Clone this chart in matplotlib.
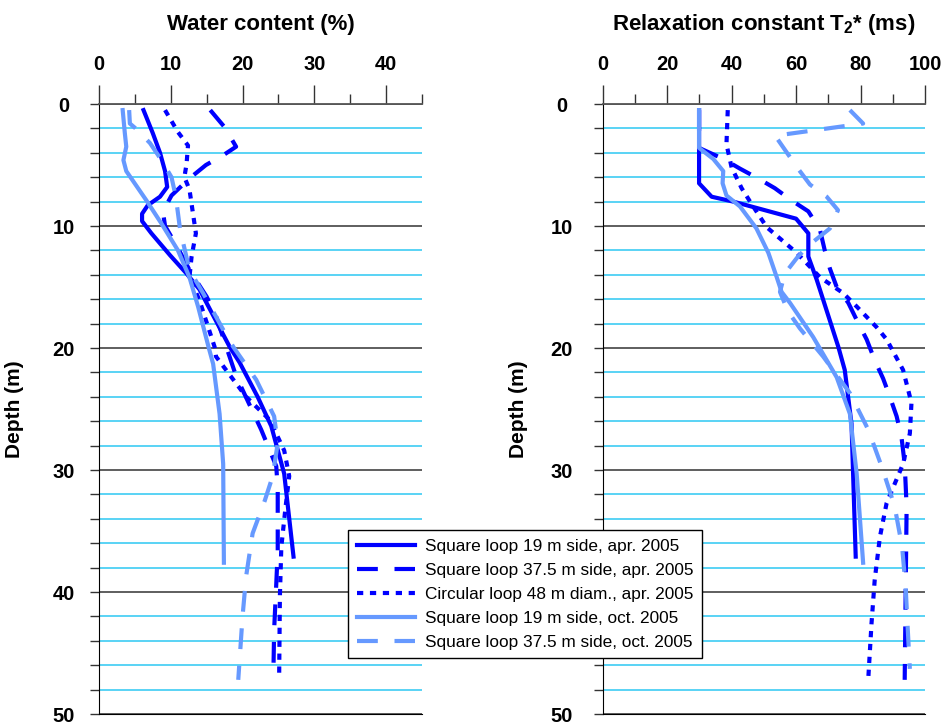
import matplotlib
matplotlib.use("Agg")
import matplotlib.pyplot as plt
from matplotlib.ticker import MultipleLocator

# colours used in the original figure
DARK = "#0000ff"
LIGHT = "#6699ff"
CYAN = "#2cc8f2"
GRIDK = "#333333"

LABELS = [
    "Square loop 19 m side, apr. 2005",
    "Square loop 37.5 m side, apr. 2005",
    "Circular loop 48 m diam., apr. 2005",
    "Square loop 19 m side, oct. 2005",
    "Square loop 37.5 m side, oct. 2005",
]

# ---- water content (%) vs depth (m) ----
wc_sq19_apr_depth = [0.5, 2.4, 4.0, 5.5, 6.8, 7.6, 8.3, 9.0, 9.6, 10.6, 12.4, 13.9, 15.2, 19.9, 21.2, 24.0, 26.4, 30.3, 37.1]
wc_sq19_apr = [6.2, 7.5, 8.5, 9.2, 9.5, 8.5, 6.8, 6.0, 6.0, 7.3, 9.9, 12.2, 14.0, 18.2, 19.6, 22.1, 24.0, 25.8, 27.1]

wc_sq37_apr_depth = [0.5, 1.9, 3.5, 4.2, 5.0, 6.1, 7.5, 8.5, 9.2, 10.0, 11.7, 13.6, 15.8, 17.4, 22.3, 26.7, 29.7, 31.6, 36.6, 39.3, 43.1, 46.5]
wc_sq37_apr = [15.5, 17.5, 19.1, 17.3, 14.9, 12.6, 10.1, 9.2, 9.0, 9.2, 10.9, 12.6, 15.0, 16.3, 19.1, 22.6, 24.7, 24.9, 24.9, 24.7, 24.4, 24.3]

wc_circ48_apr_depth = [0.5, 2.3, 3.4, 4.9, 6.0, 7.0, 9.0, 10.6, 12.5, 14.2, 16.1, 19.9, 20.7, 24.0, 25.9, 28.4, 30.5, 33.0, 36.3, 40.4, 46.9]
wc_circ48_apr = [9.2, 11.0, 12.4, 12.2, 11.9, 12.6, 13.1, 13.5, 12.9, 12.6, 14.0, 16.1, 16.3, 20.5, 23.8, 25.8, 26.5, 26.0, 25.4, 25.2, 25.1]

wc_sq19_oct_depth = [0.5, 2.4, 3.5, 4.6, 5.5, 7.9, 9.8, 12.0, 14.2, 16.6, 20.0, 21.3, 25.4, 29.5, 37.6]
wc_sq19_oct = [3.3, 3.6, 3.8, 3.4, 3.8, 6.6, 8.7, 11.0, 12.6, 13.8, 15.3, 15.9, 16.8, 17.3, 17.4]

wc_sq37_oct_depth = [0.5, 1.6, 2.0, 3.2, 4.6, 6.0, 7.6, 10.3, 13.6, 15.5, 18.5, 19.9, 22.6, 25.6, 27.8, 30.5, 32.5, 35.2, 38.7, 42.0, 47.2]
wc_sq37_oct = [4.2, 4.3, 5.1, 7.1, 8.7, 10.1, 10.7, 11.3, 12.6, 14.5, 17.3, 18.7, 21.9, 24.4, 24.9, 24.2, 23.1, 21.4, 20.5, 20.0, 19.4]

# ---- relaxation constant T2* (ms) vs depth (m) ----
t2_sq19_apr_depth = [0.5, 3.6, 6.5, 7.6, 8.0, 9.4, 10.6, 12.5, 14.4, 19.9, 21.8, 26.2, 37.1]
t2_sq19_apr = [29.9, 29.9, 29.9, 33.8, 40.5, 60.0, 63.8, 63.8, 66.4, 73.1, 75.1, 77.2, 78.5]

t2_sq37_apr_depth = [0.5, 3.6, 4.5, 5.3, 6.1, 6.9, 7.9, 8.8, 10.3, 12.0, 13.5, 15.0, 16.3, 17.7, 19.3, 21.0, 22.5, 24.0, 25.6, 27.3, 29.5, 33.0, 40.0, 47.2]
t2_sq37_apr = [29.9, 29.9, 37.4, 42.6, 48.2, 53.4, 58.6, 63.8, 67.4, 68.9, 70.5, 72.6, 76.2, 78.8, 81.9, 84.4, 87.0, 89.1, 91.2, 92.7, 93.7, 94.3, 94.0, 93.7]

t2_circ48_apr_depth = [0.5, 3.3, 5.2, 6.9, 8.2, 10.1, 12.2, 14.2, 15.5, 16.6, 18.3, 19.3, 21.8, 24.5, 27.0, 29.5, 32.7, 35.5, 39.0, 42.6, 47.1]
t2_circ48_apr = [38.8, 38.4, 40.0, 43.1, 46.2, 50.9, 60.2, 67.4, 74.6, 78.8, 85.0, 88.1, 93.2, 95.8, 95.3, 93.2, 88.1, 86.0, 84.4, 83.4, 82.4]

t2_sq19_oct_depth = [0.5, 3.6, 4.5, 5.5, 6.5, 7.5, 8.4, 10.2, 12.2, 14.2, 15.4, 16.3, 19.1, 22.4, 25.4, 30.3, 37.6]
t2_sq19_oct = [29.9, 29.9, 34.3, 37.4, 37.2, 38.4, 42.6, 47.7, 51.4, 54.0, 55.5, 58.1, 65.3, 72.6, 76.7, 78.8, 80.8]

t2_sq37_oct_depth = [0.5, 1.6, 2.6, 5.3, 6.6, 7.6, 8.7, 10.2, 11.4, 12.5, 13.9, 15.4, 17.0, 18.4, 20.7, 23.7, 26.7, 29.9, 33.0, 36.3, 39.6, 42.8, 46.3]
t2_sq37_oct = [76.7, 80.8, 53.5, 60.6, 64.3, 69.5, 73.0, 70.5, 64.8, 60.6, 56.5, 55.0, 57.5, 61.2, 68.4, 76.7, 82.4, 86.8, 90.6, 92.9, 94.0, 94.6, 95.3]

plt.rcParams.update({
    "font.family": "Liberation Sans",
    "mathtext.fontset": "custom",
    "mathtext.rm": "Liberation Sans:bold",
    "mathtext.it": "Liberation Sans:bold",
    "mathtext.bf": "Liberation Sans:bold",
})

STYLES = [
    dict(color=DARK, linestyle="-"),
    dict(color=DARK, linestyle=(0, (5, 4))),
    dict(color=DARK, linestyle=(0, (1.5, 1.6))),
    dict(color=LIGHT, linestyle="-"),
    dict(color=LIGHT, linestyle=(0, (5, 4))),
]

fig = plt.figure(figsize=(9.46, 7.24), dpi=100)
ax1 = fig.add_axes([99 / 946, 10 / 724, 323 / 946, 610 / 724])
ax2 = fig.add_axes([602.7 / 946, 10 / 724, 322.3 / 946, 610 / 724])


def style_axis(ax, xmax, major, minor, title, label_pad):
    ax.set_xlim(0, xmax)
    ax.set_ylim(50, 0)
    ax.xaxis.set_ticks_position("top")
    ax.xaxis.set_major_locator(MultipleLocator(major))
    ax.xaxis.set_minor_locator(MultipleLocator(minor))
    ax.yaxis.set_major_locator(MultipleLocator(10))
    ax.yaxis.set_minor_locator(MultipleLocator(2))
    ax.tick_params(axis="x", which="major", length=13.5, width=1, color=GRIDK,
                   labelsize=14.5, pad=8)
    ax.tick_params(axis="x", which="minor", length=7, width=1, color=GRIDK)
    ax.tick_params(axis="y", which="both", length=6.5, width=1, color=GRIDK,
                   labelsize=14.5)
    ax.tick_params(axis="y", which="major", pad=label_pad)
    for lab in ax.get_xticklabels() + ax.get_yticklabels():
        lab.set_fontweight("bold")
    for lab in ax.get_yticklabels():
        lab.set_horizontalalignment("center")
    ax.spines["right"].set_visible(False)
    ax.spines["top"].set_color("#555555")
    ax.spines["top"].set_linewidth(1.3)
    ax.spines["left"].set_color("black")
    ax.spines["bottom"].set_color("black")
    ax.grid(which="major", axis="y", color=GRIDK, linewidth=1.1)
    ax.grid(which="minor", axis="y", color=CYAN, linewidth=1.1)
    ax.set_axisbelow(True)
    ax.set_ylabel("Depth (m)", fontsize=15, fontweight="bold")
    ax.yaxis.set_label_coords(-0.232, 0.5)
    ax.text(0.5, 1.131, title, transform=ax.transAxes, ha="center", va="center",
            fontsize=16, fontweight="bold")


handles = []
series_wc = [
    (wc_sq19_apr, wc_sq19_apr_depth),
    (wc_sq37_apr, wc_sq37_apr_depth),
    (wc_circ48_apr, wc_circ48_apr_depth),
    (wc_sq19_oct, wc_sq19_oct_depth),
    (wc_sq37_oct, wc_sq37_oct_depth),
]
series_t2 = [
    (t2_sq19_apr, t2_sq19_apr_depth),
    (t2_sq37_apr, t2_sq37_apr_depth),
    (t2_circ48_apr, t2_circ48_apr_depth),
    (t2_sq19_oct, t2_sq19_oct_depth),
    (t2_sq37_oct, t2_sq37_oct_depth),
]
for (xv, dv), st, lab in zip(series_wc, STYLES, LABELS):
    h, = ax1.plot(xv, dv, linewidth=3, label=lab, **st)
    handles.append(h)
for (xv, dv), st in zip(series_t2, STYLES):
    ax2.plot(xv, dv, linewidth=3, **st)

style_axis(ax1, 45, 10, 5, "Water content (%)", 19)
style_axis(ax2, 100, 20, 10, "Relaxation constant T$_2$* (ms)", 23)

# legend sits on top of the right panel's "40" label, as in the original
leg = fig.legend(handles=handles, loc="upper left",
                 bbox_to_anchor=(348 / 946, 1 - 530 / 724),
                 fontsize=12.4, frameon=True, fancybox=False, framealpha=1,
                 edgecolor="black", handlelength=3.4, handletextpad=0.55,
                 labelspacing=0.52, borderpad=0.5, borderaxespad=0)
leg.get_frame().set_linewidth(1)

fig.savefig("out.png", dpi=100)
